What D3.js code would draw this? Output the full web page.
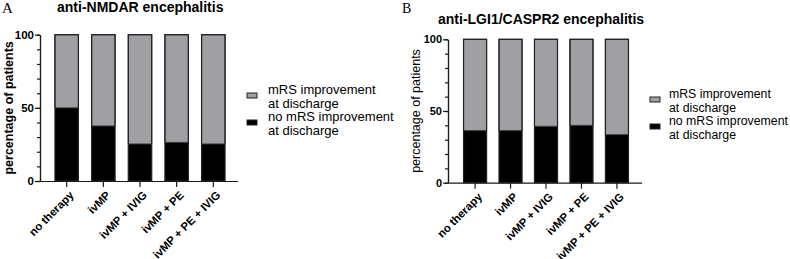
<!DOCTYPE html>
<html lang="en">
<head>
    <meta charset="UTF-8">
    <title>mRS improvement at discharge</title>
    <script src="https://d3js.org/d3.v7.min.js"></script>
    <style>
        body { margin: 0; background: #fff; }
        svg { display: block; font-family: "Liberation Sans", Arial, sans-serif; }
        .axis path, .axis line { stroke: #1a1a1a; stroke-width: 1.2; }
    </style>
</head>
<body>
    <svg id="chart" width="790" height="259"></svg>
    <script>
        // ---- data ----
        const categories = ["no therapy", "ivMP", "ivMP + IVIG", "ivMP + PE", "ivMP + PE + IVIG"];
        const nmdarNoImprovement = [50, 37.6, 25.3, 26.4, 25.3];
        const nmdarImprovement = [50, 62.4, 74.7, 73.6, 74.7];
        const lgiNoImprovement = [36.3, 36.3, 39.3, 40, 33.5];
        const lgiImprovement = [63.7, 63.7, 60.7, 60, 66.5];
        const yMajorTicks = [0, 50, 100];
        const yMinorTicks = [0, 10, 20, 30, 40, 50, 60, 70, 80, 90, 100];
        const legendLabels = [["mRS improvement", "at discharge"], ["no mRS improvement", "at discharge"]];

        const grey = "#a0a0a4";
        const svg = d3.select("#chart");

        function drawPanel(p) {
            const g = svg.append("g");

            // panel letter + title
            g.append("text")
                .attr("x", p.letterX).attr("y", p.letterY)
                .attr("font-family", "'Liberation Serif', 'Times New Roman', serif")
                .attr("font-size", p.letterSize)
                .text(p.letter);
            g.append("text")
                .attr("x", p.titleX).attr("y", p.titleY)
                .attr("font-weight", "bold")
                .attr("font-size", 14)
                .text(p.title);

            const x = d3.scaleBand()
                .domain(categories)
                .range([p.x0, p.x1])
                .paddingInner(p.padIn)
                .paddingOuter(p.padOut);
            const y = d3.scaleLinear()
                .domain([0, 100])
                .range([p.y0, p.y1]);

            // bars: black bottom, grey on top
            const rows = categories.map((c, i) => ({ c, no: p.no[i], yes: p.yes[i] }));
            g.selectAll(".bar-no").data(rows).enter().append("rect")
                .attr("x", d => x(d.c))
                .attr("y", d => y(d.no))
                .attr("width", x.bandwidth())
                .attr("height", d => y(0) - y(d.no))
                .attr("fill", "#000");
            g.selectAll(".bar-yes").data(rows).enter().append("rect")
                .attr("x", d => x(d.c))
                .attr("y", d => y(d.no + d.yes))
                .attr("width", x.bandwidth())
                .attr("height", d => y(d.no) - y(d.no + d.yes))
                .attr("fill", grey)
                .attr("stroke", "#333")
                .attr("stroke-width", 1);
            // outline around the whole bar
            g.selectAll(".bar-outline").data(rows).enter().append("rect")
                .attr("x", d => x(d.c))
                .attr("y", d => y(d.no + d.yes))
                .attr("width", x.bandwidth())
                .attr("height", d => y(0) - y(d.no + d.yes))
                .attr("fill", "none")
                .attr("stroke", "#222")
                .attr("stroke-width", 1.2);

            // y axis: minor + major ticks
            g.append("g")
                .attr("class", "axis")
                .attr("transform", `translate(${p.axisX},0)`)
                .call(d3.axisLeft(y).tickValues(yMinorTicks).tickSize(3).tickSizeOuter(0).tickFormat(""));
            const yAx = g.append("g")
                .attr("class", "axis")
                .attr("transform", `translate(${p.axisX},0)`)
                .call(d3.axisLeft(y).tickValues(yMajorTicks).tickSize(5).tickSizeOuter(0).tickPadding(1));
            yAx.selectAll("text")
                .attr("font-family", "'Liberation Sans', Arial, sans-serif")
                .attr("font-weight", "bold")
                .attr("font-size", p.tickSize)
                .attr("fill", "#000");

            // x axis
            const xAx = g.append("g")
                .attr("class", "axis")
                .attr("transform", `translate(0,${p.y0})`)
                .call(d3.axisBottom(x).tickSize(6).tickSizeOuter(0));
            xAx.select(".domain").attr("d", `M${p.axisX},0.5H${p.axisEnd}`);
            xAx.selectAll("text")
                .attr("font-family", "'Liberation Sans', Arial, sans-serif")
                .attr("font-weight", "bold")
                .attr("font-size", 11.3)
                .attr("fill", "#000")
                .attr("text-anchor", "end")
                .attr("x", 0).attr("y", 0).attr("dy", "0.35em")
                .attr("transform", "translate(5,12) rotate(-45)");

            // y label
            g.append("text")
                .attr("transform", `translate(${p.yLabelX},${(p.y0 + p.y1) / 2}) rotate(-90)`)
                .attr("text-anchor", "middle")
                .attr("font-weight", p.yLabelWeight)
                .attr("font-size", 12.5)
                .text("percentage of patients");

            // legend
            const fills = [grey, "#000"];
            legendLabels.forEach((lines, i) => {
                const top = p.legY + i * 27;
                g.append("rect")
                    .attr("x", p.legX).attr("y", top - 3)
                    .attr("width", 10).attr("height", 5)
                    .attr("fill", fills[i])
                    .attr("stroke", "#222").attr("stroke-width", 1);
                lines.forEach((t, j) => {
                    g.append("text")
                        .attr("x", p.legX + p.legGap)
                        .attr("y", top - 2 + j * 13.5)
                        .attr("font-size", p.legFont)
                        .text(t);
                });
            });
        }

        drawPanel({
            letter: "A", letterX: 2, letterY: 13, letterSize: 15,
            title: "anti-NMDAR encephalitis", titleX: 57, titleY: 12,
            x0: 41.4, x1: 238.6, padIn: 0.36, padOut: 0.37,
            y0: 181, y1: 34.7, axisX: 40, axisEnd: 238,
            tickSize: 11.5, yLabelX: 13, yLabelWeight: "bold",
            no: nmdarNoImprovement, yes: nmdarImprovement,
            legX: 247, legY: 96, legGap: 21, legFont: 13
        });

        drawPanel({
            letter: "B", letterX: 402, letterY: 13, letterSize: 14,
            title: "anti-LGI1/CASPR2 encephalitis", titleX: 438, titleY: 24,
            x0: 449, x1: 643, padIn: 0.35, padOut: 0.41,
            y0: 182.7, y1: 39.3, axisX: 448, axisEnd: 642,
            tickSize: 11, yLabelX: 420, yLabelWeight: "normal",
            no: lgiNoImprovement, yes: lgiImprovement,
            legX: 650, legY: 100, legGap: 19, legFont: 12.3
        });
    </script>
</body>
</html>
